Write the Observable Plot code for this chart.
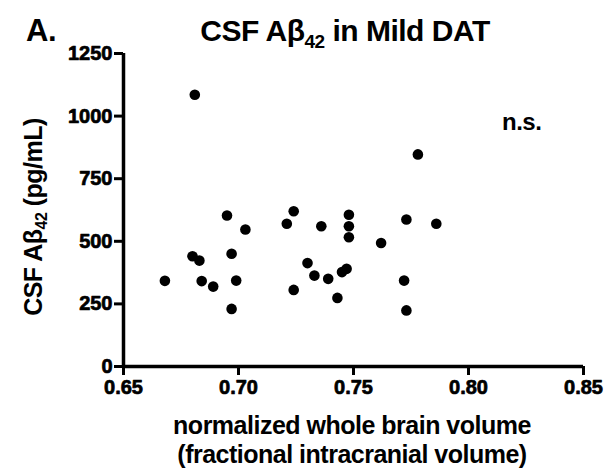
<!DOCTYPE html>
<html><head><meta charset="utf-8">
<script src="https://cdn.jsdelivr.net/npm/d3@7"></script>
<script src="https://cdn.jsdelivr.net/npm/@observablehq/plot@0.6"></script>
<style>
body{margin:0;background:#fff;overflow:hidden}
</style>
</head><body><div id="chart"></div>
<script>
const volume = [0.681, 0.695, 0.703, 0.680, 0.683, 0.697, 0.668, 0.684, 0.689, 0.699, 0.697,
  0.724, 0.721, 0.736, 0.748, 0.748, 0.748, 0.762, 0.730, 0.733, 0.739, 0.745, 0.747, 0.724, 0.743,
  0.778, 0.773, 0.786, 0.772, 0.773];
const abeta = [1085, 603, 547, 440, 423, 450, 342, 341, 319, 343, 230,
  620, 570, 560, 606, 560, 516, 493, 413, 363, 350, 377, 390, 306, 274,
  847, 587, 570, 343, 224];
const xTicks = [0.65, 0.70, 0.75, 0.80, 0.85];
const yTicks = [0, 250, 500, 750, 1000, 1250];
const xTickLabels = ["0.65", "0.70", "0.75", "0.80", "0.85"];
const yTickLabels = ["0", "250", "500", "750", "1000", "1250"];

const data = volume.map((v, i) => ({x: v, y: abeta[i]}));
const font = "'Liberation Sans', Arial, sans-serif";

const chart = Plot.plot({
  width: 608, height: 470,
  marginLeft: 123, marginRight: 25, marginTop: 53, marginBottom: 104,
  style: {fontFamily: font, background: "#fff", overflow: "visible"},
  x: {domain: [0.65, 0.85], axis: null},
  y: {domain: [0, 1250], axis: null},
  marks: [
    Plot.axisX({ticks: xTicks, tickSize: 9, tickFormat: () => "", strokeWidth: 3, label: null}),
    Plot.axisY({ticks: yTicks, tickSize: 9, tickFormat: () => "", strokeWidth: 3, label: null}),
    Plot.ruleX([0.65], {strokeWidth: 3.5}),
    Plot.ruleY([0], {strokeWidth: 3.5}),
    Plot.text(xTicks, {x: d => d, text: (d, i) => xTickLabels[i], frameAnchor: "bottom",
      dy: 27, fontSize: 20, fontWeight: "bold", fill: "black", stroke: "black", strokeWidth: 0.7}),
    Plot.text(yTicks, {y: d => d, text: (d, i) => yTickLabels[i], frameAnchor: "left",
      dx: -11, textAnchor: "end", fontSize: 20, fontWeight: "bold", fill: "black", stroke: "black", strokeWidth: 0.7}),
    Plot.dot(data, {x: "x", y: "y", r: 5.3, fill: "black"})
  ]
});
document.getElementById("chart").append(chart);

const svg = d3.select(chart);
svg.selectAll("g[aria-label$='tick'] path").style("stroke-width", "3px");

function addText(x, y, size, anchor, parts, rotate) {
  const t = svg.append("text")
    .attr("font-family", font)
    .attr("font-size", size).attr("text-anchor", anchor)
    .attr("fill", "black")
    .attr("font-weight", "bold")
    .style("letter-spacing", "-0.5px");
  if (rotate) t.attr("transform", `translate(${x},${y}) rotate(-90)`);
  else t.attr("x", x).attr("y", y);
  parts.forEach(p => {
    if (typeof p === "string") t.append("tspan").text(p);
    else t.append("tspan").attr("font-size", p.size).attr("dy", p.dy).text(p.text);
  });
  return t;
}
addText(26, 41, 31, "start", ["A."]);
addText(345, 41, 30, "middle", ["CSF A\u03b2", {text: "42", size: 19, dy: 7}, {text: " in Mild DAT", size: 30, dy: -7}]);
addText(502, 130, 24, "start", ["n.s."]);
addText(42, 217, 25, "middle", ["CSF A\u03b2", {text: "42", size: 16, dy: 5}, {text: " (pg/mL)", size: 25, dy: -5}], true);
addText(352, 434, 25, "middle", ["normalized whole brain volume"]);
addText(352, 463, 25, "middle", ["(fractional intracranial volume)"]);
</script>
</body></html>
